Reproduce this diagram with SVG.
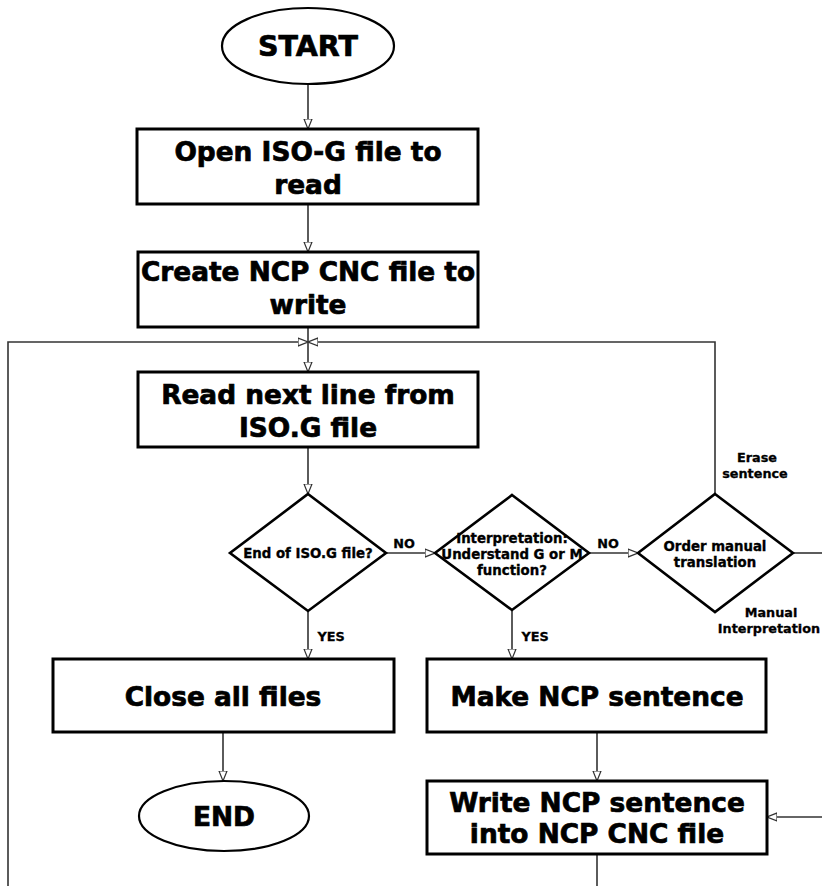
<svg xmlns="http://www.w3.org/2000/svg" width="822" height="886" viewBox="0 0 822 886">
  <style>
    .term { fill: #fff; stroke: #000; stroke-width: 2.2; }
    .box { fill: #fff; stroke: #000; stroke-width: 3; }
    .dec { fill: #fff; stroke: #000; stroke-width: 2.6; }
    .conn { fill: none; stroke: #333; stroke-width: 1.6; }
    text { font-family: "DejaVu Sans", "Verdana", sans-serif; font-weight: bold; fill: #000; stroke: #000; text-anchor: middle; }
    .big { font-size: 26.4px; stroke-width: 0.7; }
    .huge { font-size: 28.5px; stroke-width: 0.7; }
    .mid { font-size: 13.3px; stroke-width: 0.35; }
    .lbl { font-size: 12.8px; stroke-width: 0.3; }
  </style>
  <defs>
    <marker id="arrow" viewBox="0 0 10 10" refX="10" refY="5" markerWidth="10" markerHeight="10" markerUnits="userSpaceOnUse" orient="auto">
      <path d="M0,1 L10,5 L0,9 Z" fill="#fff" stroke="#333" stroke-width="1.2"/>
    </marker>
  </defs>

  <g id="connectors">
    <path class="conn" d="M308,84 V129" marker-end="url(#arrow)"/>
    <path class="conn" d="M308,204 V252" marker-end="url(#arrow)"/>
    <path class="conn" d="M308,327 V372" marker-end="url(#arrow)"/>
    <path class="conn" d="M8,886 V342 H308" marker-end="url(#arrow)"/>
    <path class="conn" d="M715,494 V342 H308" marker-end="url(#arrow)"/>
    <path class="conn" d="M308,447 V494" marker-end="url(#arrow)"/>
    <path class="conn" d="M386,553 H435" marker-end="url(#arrow)"/>
    <path class="conn" d="M589,553 H638" marker-end="url(#arrow)"/>
    <path class="conn" d="M793,553 H822"/>
    <path class="conn" d="M308,611 V659" marker-end="url(#arrow)"/>
    <path class="conn" d="M512,610 V659" marker-end="url(#arrow)"/>
    <path class="conn" d="M223,732 V781" marker-end="url(#arrow)"/>
    <path class="conn" d="M597,732 V781" marker-end="url(#arrow)"/>
    <path class="conn" d="M822,817 H767" marker-end="url(#arrow)"/>
    <path class="conn" d="M597,854 V886"/>
    <text class="lbl" x="404" y="548">NO</text>
    <text class="lbl" x="608" y="548">NO</text>
    <text class="lbl" x="331" y="641">YES</text>
    <text class="lbl" x="535" y="641">YES</text>
    <text class="lbl" x="757" y="462">Erase</text>
    <text class="lbl" x="755" y="478">sentence</text>
    <text class="lbl" x="771" y="617">Manual</text>
    <text class="lbl" x="769" y="633">Interpretation</text>
  </g>

  <g id="start">
    <ellipse class="term" cx="308" cy="46" rx="86" ry="38"/>
    <text class="huge" x="308" y="56">START</text>
  </g>

  <g id="open-iso">
    <rect class="box" x="137" y="129" width="341" height="75"/>
    <text class="big" x="308" y="161">Open ISO-G file to</text>
    <text class="big" x="308" y="194">read</text>
  </g>

  <g id="create-ncp">
    <rect class="box" x="138" y="252" width="340" height="75"/>
    <text class="big" x="308" y="281">Create NCP CNC file to</text>
    <text class="big" x="308" y="314">write</text>
  </g>

  <g id="read-line">
    <rect class="box" x="138" y="372" width="340" height="75"/>
    <text class="big" x="308" y="404">Read next line from</text>
    <text class="big" x="308" y="437">ISO.G file</text>
  </g>

  <g id="end-of-file">
    <polygon class="dec" points="308,494 386,553 308,611 230,553"/>
    <text class="mid" x="308" y="558">End of ISO.G file?</text>
  </g>

  <g id="interpretation">
    <polygon class="dec" points="512,495 589,553 512,610 435,553"/>
    <text class="mid" x="512" y="543">Interpretation:</text>
    <text class="mid" x="512" y="559">Understand G or M</text>
    <text class="mid" x="512" y="575">function?</text>
  </g>

  <g id="manual-translation">
    <polygon class="dec" points="715,494 793,553 715,612 638,553"/>
    <text class="mid" x="715" y="551">Order manual</text>
    <text class="mid" x="715" y="567">translation</text>
  </g>

  <g id="close-files">
    <rect class="box" x="53" y="659" width="341" height="73"/>
    <text class="big" x="223" y="706">Close all files</text>
  </g>

  <g id="make-sentence">
    <rect class="box" x="427" y="659" width="339" height="73"/>
    <text class="big" x="597" y="706">Make NCP sentence</text>
  </g>

  <g id="end">
    <ellipse class="term" cx="224" cy="816" rx="85" ry="35"/>
    <text class="big" x="224" y="826">END</text>
  </g>

  <g id="write-sentence">
    <rect class="box" x="427" y="781" width="340" height="73"/>
    <text class="big" x="597" y="812">Write NCP sentence</text>
    <text class="big" x="597" y="843">into NCP CNC file</text>
  </g>
</svg>
